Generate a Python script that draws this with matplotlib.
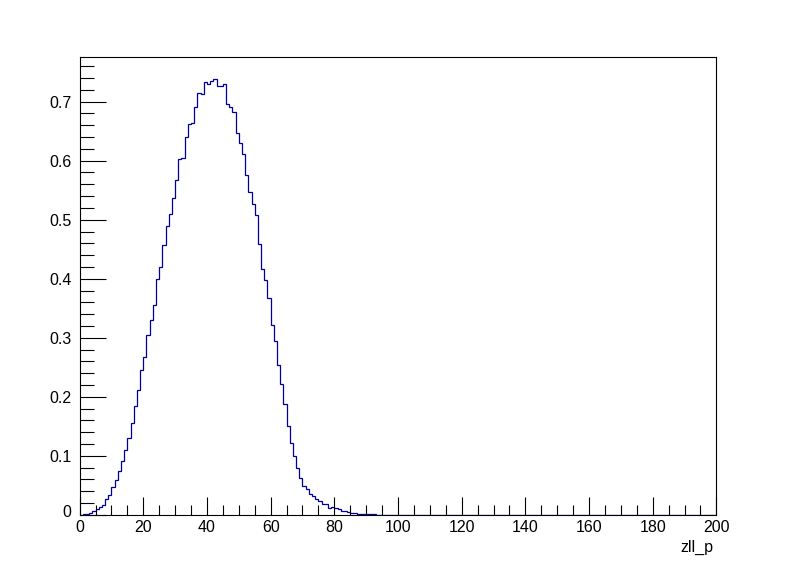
import numpy as np
import matplotlib
matplotlib.use("Agg")
import matplotlib.pyplot as plt
import matplotlib.transforms as mtransforms
from matplotlib.ticker import MultipleLocator

plt.rcParams['font.family'] = ['Liberation Sans', 'DejaVu Sans']

# histogram zll_p: 200 bins from 0 to 200
x_min, x_max, n_bins = 0, 200, 200
filled = [
    0.0005, 0.001, 0.0012, 0.003, 0.007, 0.0096, 0.0136, 0.017, 0.0266, 0.0334,
    0.0475, 0.0588, 0.0747, 0.091, 0.1097, 0.130, 0.1555, 0.185, 0.2115, 0.245,
    0.268, 0.3045, 0.3305, 0.3554, 0.3994, 0.4198, 0.4576, 0.4898, 0.5096, 0.5373,
    0.5678, 0.6028, 0.6045, 0.6401, 0.6627, 0.6638, 0.691, 0.7147, 0.713, 0.7333,
    0.730, 0.735, 0.7384, 0.727, 0.727, 0.7305, 0.696, 0.691, 0.6825, 0.6475,
    0.630, 0.611, 0.5757, 0.547, 0.5266, 0.508, 0.4588, 0.4164, 0.3977, 0.3672,
    0.3215, 0.2949, 0.2542, 0.222, 0.187, 0.1503, 0.1215, 0.100, 0.0797, 0.0630,
    0.0492, 0.0435, 0.0356, 0.0325, 0.026, 0.0235, 0.0181, 0.0181, 0.0113, 0.0136,
    0.0119, 0.0096, 0.0068, 0.0068, 0.0051, 0.0034, 0.0034, 0.0012, 0.0012, 0.0012,
    0.0012, 0.0012, 0.0012,
]
values = np.array(filled + [0.0] * (n_bins - len(filled)))
edges = np.linspace(x_min, x_max, n_bins + 1)
x_title = "zll_p"

fig = plt.figure(figsize=(7.96, 5.72), dpi=100)
ax = fig.add_axes([0.1, 0.1, 0.8, 0.8])

ax.stairs(values, edges, color='#000099', linewidth=0.9)

ax.set_xlim(x_min, x_max)
y_top = values.max() * 1.05

# ROOT style ticks
ax.xaxis.set_major_locator(MultipleLocator(20))
ax.xaxis.set_minor_locator(MultipleLocator(5))
ax.yaxis.set_minor_locator(MultipleLocator(0.02))
ax.tick_params(axis='both', which='both', direction='in', top=False, right=False,
               labelsize=11.5, width=0.8)
ax.tick_params(axis='x', which='major', length=13, pad=4)
ax.tick_params(axis='x', which='minor', length=7)
ax.tick_params(axis='y', which='major', length=19, pad=6)
ax.tick_params(axis='y', which='minor', length=10)
yt = np.arange(0, 0.75, 0.1)
ax.set_yticks(yt)
ax.set_yticklabels(['0' if v == 0 else '%g' % round(v, 1) for v in yt])
ax.set_ylim(0, y_top)

# zero label on y sits a little higher, as in ROOT
lab0 = ax.get_yticklabels()[0]
lab0.set_transform(lab0.get_transform() +
                   mtransforms.ScaledTranslation(0, 4 / 100, fig.dpi_scale_trans))

for s in ax.spines.values():
    s.set_linewidth(0.8)

ax.set_xlabel(x_title, loc='right', fontsize=11.5)
ax.xaxis.set_label_coords(0.996, -0.055)

fig.savefig('out.png', dpi=100)
